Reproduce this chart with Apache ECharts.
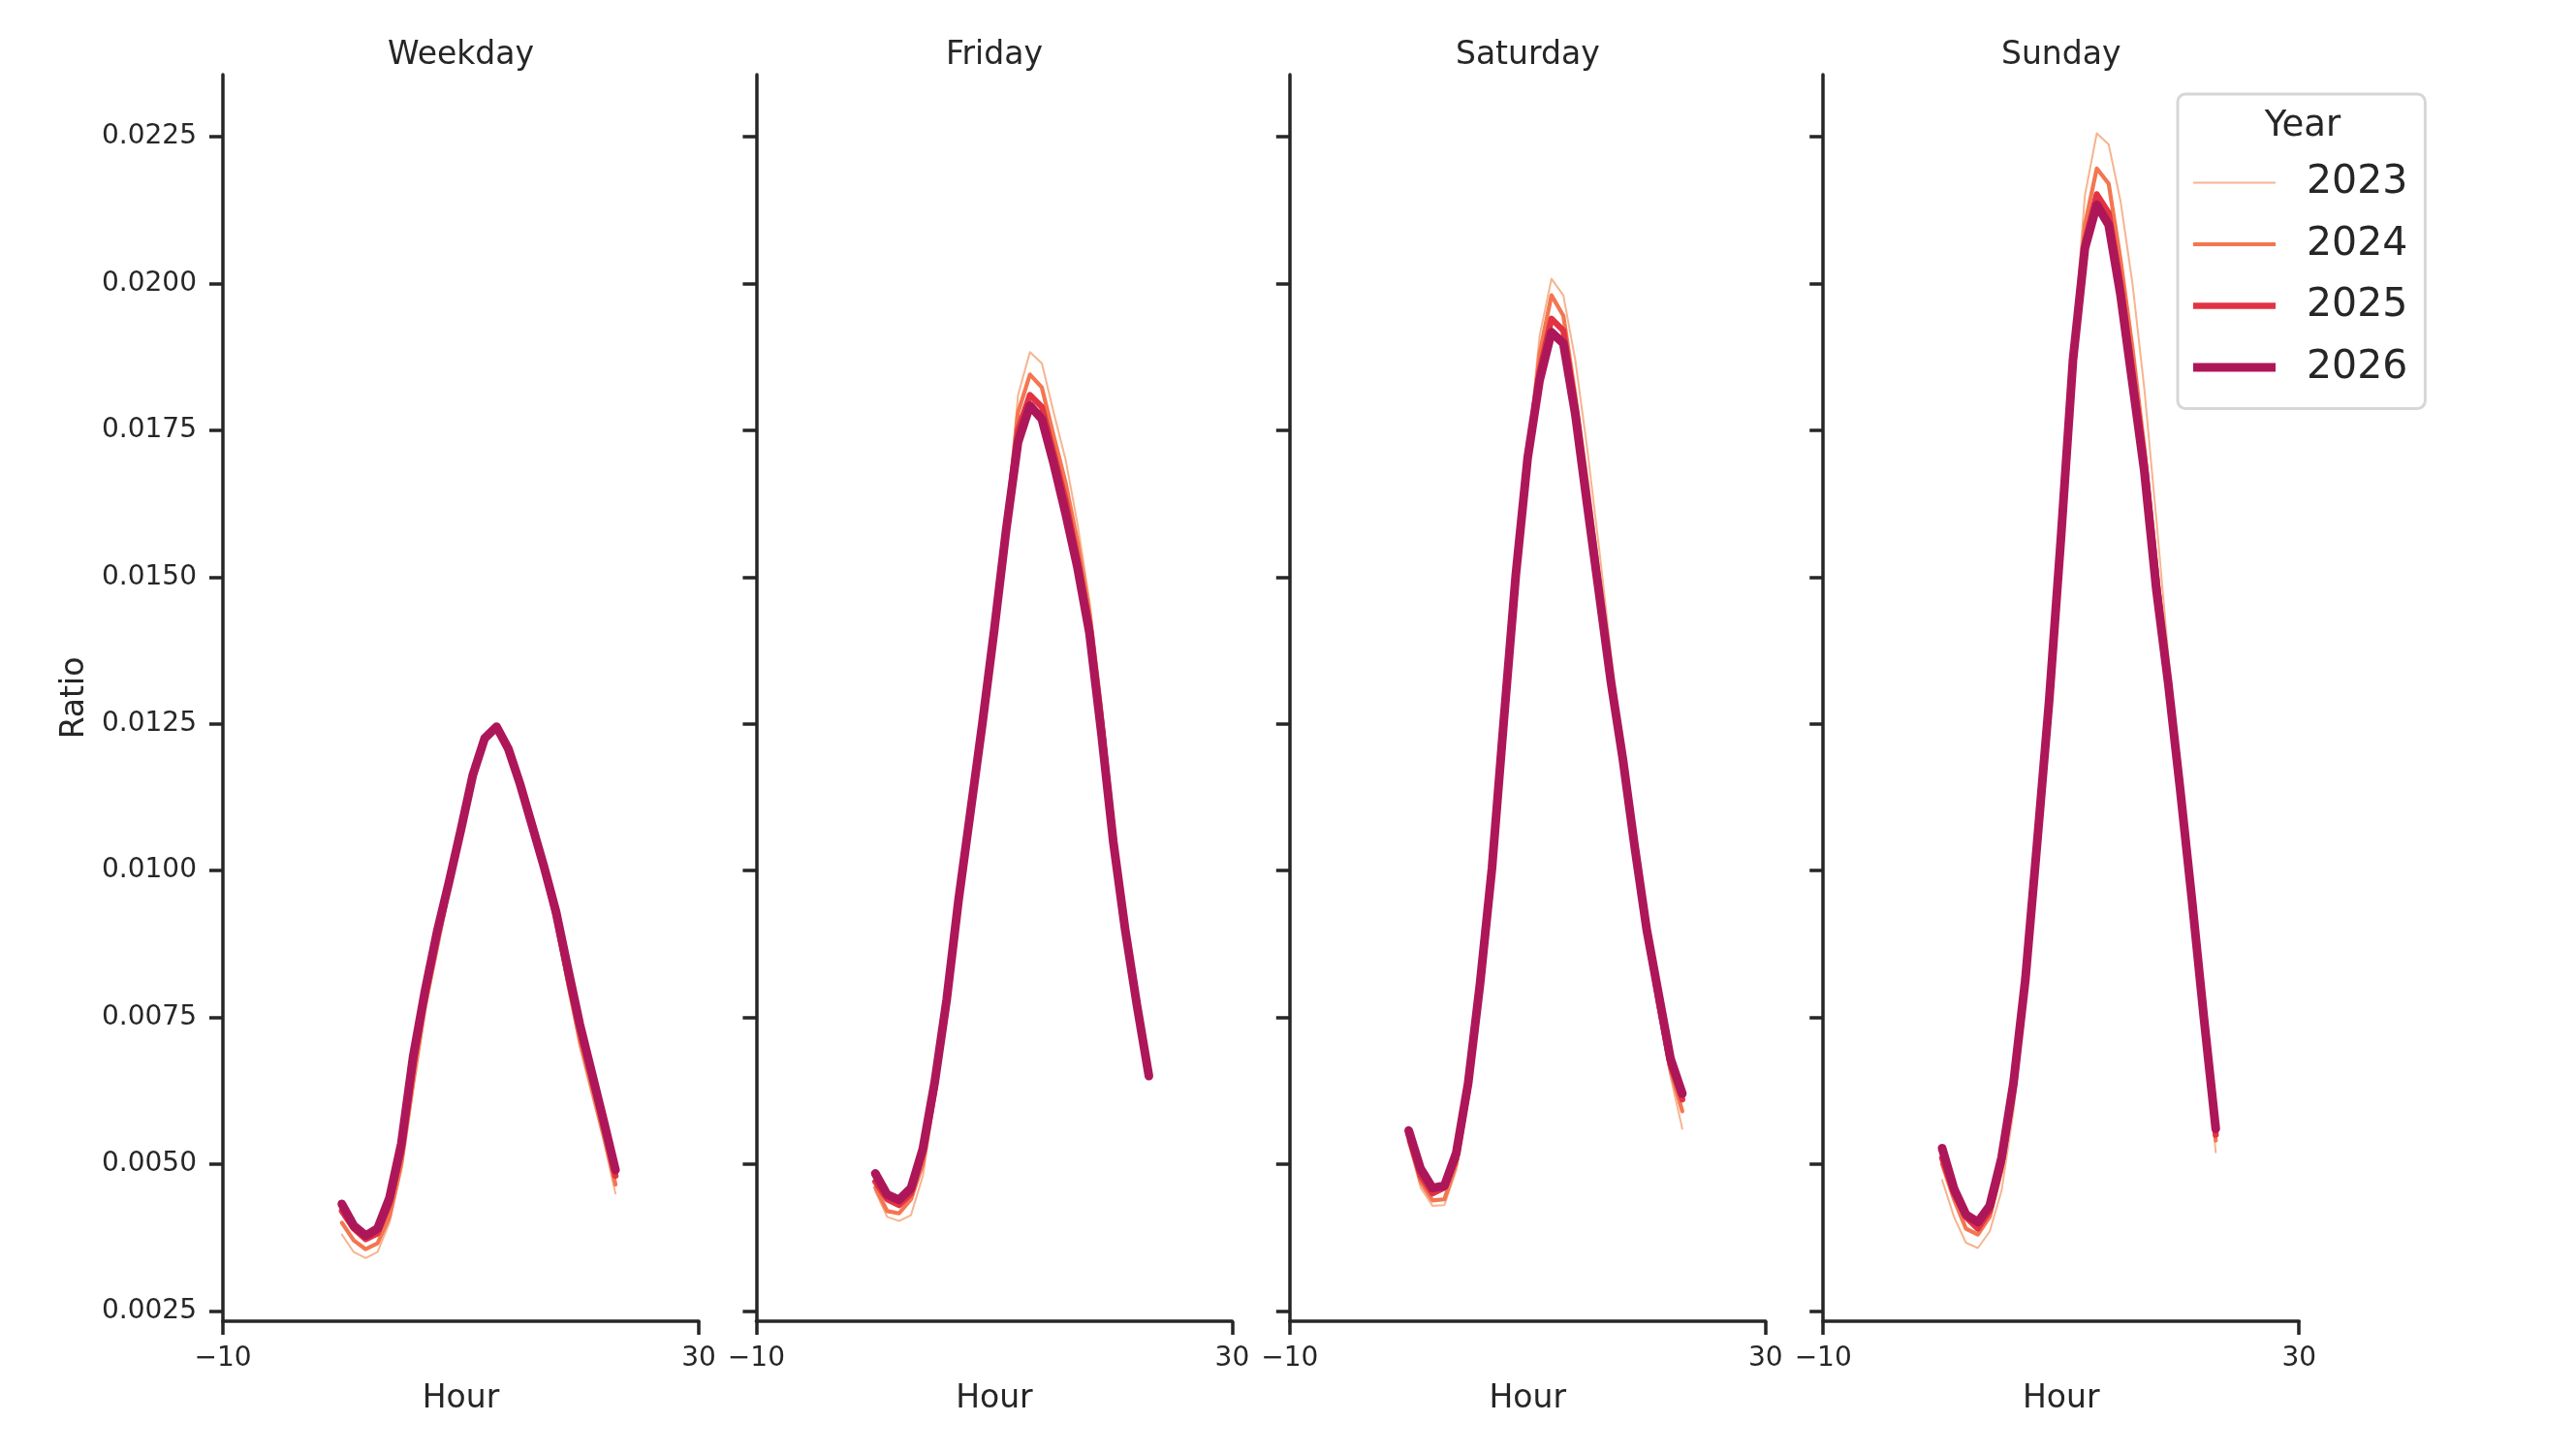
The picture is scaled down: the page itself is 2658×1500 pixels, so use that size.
<!DOCTYPE html>
<html>
<head>
  <meta charset="UTF-8">
  <title>Ratio by hour</title>
  <style>
    html, body {
      margin: 0;
      padding: 0;
      background: #fff;
    }

    #main {
      width: 2658px;
      height: 1500px;
    }
  </style>
  <script src="https://cdn.jsdelivr.net/npm/echarts@6/dist/echarts.min.js"></script>
</head>

<body>
<div id="main"></div>

<script type="text/javascript">
  // data
  const hours = [0, 1, 2, 3, 4, 5, 6, 7, 8, 9, 10, 11, 12, 13, 14, 15, 16, 17, 18, 19, 20, 21, 22, 23];
  const panels = ['Weekday', 'Friday', 'Saturday', 'Sunday'];
  const years = ['2023', '2024', '2025', '2026'];
  const yTicks = [0.0025, 0.005, 0.0075, 0.01, 0.0125, 0.015, 0.0175, 0.02, 0.0225];
  const xTicks = [-10, 30];

  const weekday2023 = [0.0038, 0.0035, 0.0034, 0.0035, 0.0040, 0.0049, 0.0063, 0.0076, 0.0086, 0.0096, 0.0105, 0.0114,
    0.0122, 0.01242, 0.0120, 0.0114, 0.0107, 0.0099, 0.0091, 0.0080, 0.0070, 0.0062, 0.0054, 0.0045];
  const weekday2024 = [0.0040, 0.0037, 0.00355, 0.00365, 0.0041, 0.0050, 0.0064, 0.0077, 0.0087, 0.0097, 0.0106, 0.0115,
    0.01222, 0.01243, 0.01205, 0.01143, 0.0107, 0.0100, 0.0092, 0.0081, 0.0071, 0.0063, 0.0055, 0.00465];
  const weekday2025 = [0.0042, 0.0039, 0.00372, 0.00382, 0.00432, 0.0052, 0.0067, 0.0079, 0.0089, 0.0098, 0.01068, 0.0116,
    0.01224, 0.01245, 0.01207, 0.01145, 0.01075, 0.01004, 0.0092, 0.0082, 0.0073, 0.0065, 0.0057, 0.0048];
  const weekday2026 = [0.00432, 0.00395, 0.00378, 0.0039, 0.00442, 0.00535, 0.00684, 0.00796, 0.00895, 0.0098, 0.01069, 0.01162,
    0.01225, 0.01245, 0.01207, 0.01146, 0.01076, 0.01006, 0.0093, 0.00833, 0.00738, 0.00656, 0.00574, 0.0049];

  const friday2023 = [0.00454, 0.0041, 0.00403, 0.00413, 0.0048, 0.0061, 0.0076, 0.0094, 0.0110, 0.0125, 0.0141, 0.0159,
    0.0181, 0.01883, 0.01864, 0.0178, 0.0170, 0.0159, 0.0146, 0.0129, 0.0108, 0.0091, 0.0077, 0.0065];
  const friday2024 = [0.0046, 0.0042, 0.00416, 0.0044, 0.0050, 0.0062, 0.0077, 0.0095, 0.0110, 0.0125, 0.0141, 0.0159,
    0.0178, 0.01845, 0.01823, 0.0174, 0.0166, 0.0156, 0.0144, 0.0127, 0.0107, 0.0091, 0.0077, 0.0065];
  const friday2025 = [0.0047, 0.0044, 0.0043, 0.0045, 0.0052, 0.0063, 0.0078, 0.0095, 0.0110, 0.0125, 0.0141, 0.0158,
    0.0175, 0.0181, 0.0179, 0.0171, 0.0163, 0.0153, 0.0142, 0.0125, 0.0106, 0.0090, 0.0077, 0.0065];
  const friday2026 = [0.00484, 0.00448, 0.00439, 0.00459, 0.00526, 0.0064, 0.0078, 0.0095, 0.0110, 0.0125, 0.0141, 0.0158,
    0.0173, 0.01792, 0.01769, 0.01693, 0.01608, 0.01516, 0.01405, 0.01235, 0.0105, 0.0090, 0.0077, 0.0065];

  const saturday2023 = [0.0054, 0.0046, 0.00429, 0.0043, 0.0049, 0.0061, 0.0079, 0.0099, 0.0124, 0.0150, 0.0171, 0.0191,
    0.02008, 0.0198, 0.0187, 0.0172, 0.0155, 0.0137, 0.0120, 0.0104, 0.0088, 0.0076, 0.0065, 0.0056];
  const saturday2024 = [0.0054, 0.0047, 0.00438, 0.0044, 0.0050, 0.0062, 0.0080, 0.0100, 0.0125, 0.0150, 0.0170, 0.0188,
    0.0198, 0.01945, 0.0181, 0.0166, 0.0150, 0.0134, 0.0119, 0.0104, 0.0089, 0.0077, 0.0066, 0.0059];
  const saturday2025 = [0.0055, 0.0048, 0.0045, 0.0046, 0.0051, 0.0063, 0.0080, 0.0100, 0.0125, 0.0150, 0.0170, 0.0185,
    0.0194, 0.0192, 0.0179, 0.0163, 0.0148, 0.0132, 0.0119, 0.0104, 0.0090, 0.0078, 0.0067, 0.0061];
  const saturday2026 = [0.00557, 0.00492, 0.00459, 0.00463, 0.00519, 0.00638, 0.00808, 0.01004, 0.01257, 0.01503, 0.01703, 0.01835,
    0.01917, 0.01898, 0.01778, 0.01624, 0.01473, 0.01321, 0.0119, 0.0104, 0.0090, 0.0079, 0.0068, 0.0062];

  const sunday2023 = [0.00473, 0.0041, 0.00366, 0.00357, 0.00385, 0.00455, 0.0059, 0.0078, 0.0102, 0.0128, 0.0157, 0.0189,
    0.0215, 0.02256, 0.02237, 0.0214, 0.0200, 0.0182, 0.0160, 0.0137, 0.0116, 0.0095, 0.0074, 0.0052];
  const sunday2024 = [0.0050, 0.0044, 0.0039, 0.0038, 0.0041, 0.0049, 0.0062, 0.0080, 0.0104, 0.0129, 0.0157, 0.0188,
    0.0210, 0.02196, 0.0217, 0.0204, 0.0189, 0.0172, 0.0152, 0.0133, 0.0114, 0.0094, 0.0074, 0.0054];
  const sunday2025 = [0.0051, 0.0045, 0.0041, 0.0039, 0.0042, 0.0050, 0.0063, 0.0081, 0.0105, 0.0129, 0.0157, 0.0187,
    0.0207, 0.02152, 0.0212, 0.0200, 0.0185, 0.0170, 0.0150, 0.0132, 0.0114, 0.0095, 0.0075, 0.0055];
  const sunday2026 = [0.00527, 0.00458, 0.00414, 0.00401, 0.00429, 0.00511, 0.00638, 0.00815, 0.0105, 0.0129, 0.0157, 0.0187,
    0.0206, 0.02134, 0.0210, 0.0198, 0.0183, 0.0168, 0.0148, 0.0132, 0.0114, 0.0095, 0.0075, 0.0056];

  const panelData = [
    [weekday2023, weekday2024, weekday2025, weekday2026],
    [friday2023, friday2024, friday2025, friday2026],
    [saturday2023, saturday2024, saturday2025, saturday2026],
    [sunday2023, sunday2024, sunday2025, sunday2026]
  ];

  const yearColors = ['#f6b48f', '#f37651', '#e13342', '#ad1759'];
  const yearWidths = [2, 4.2, 6.3, 9];
  const ink = '#262626';
  const font = 'DejaVu Sans';

  const myChart = echarts.init(document.getElementById('main'), null, {renderer: 'canvas'});

  // panel layout, in px
  const gridLeft0 = 230;
  const gridStep = 550.4;
  const gridWidth = 491;
  const gridTop = 77;
  const gridHeight = 1286;

  let grids = [], xAxes = [], yAxes = [], titles = [], series = [];

  panels.forEach(function (name, i) {
    const left = gridLeft0 + gridStep * i;
    grids.push({left: left, top: gridTop, width: gridWidth, height: gridHeight});
    titles.push({
      text: name,
      left: left + gridWidth / 2,
      top: 41,
      padding: 0,
      textAlign: 'center',
      textStyle: {fontFamily: font, fontSize: 33, fontWeight: 'normal', color: ink}
    });
    xAxes.push({
      gridIndex: i,
      type: 'value',
      min: -10,
      max: 30,
      name: 'Hour',
      nameLocation: 'middle',
      nameGap: 64,
      nameTextStyle: {fontFamily: font, fontSize: 33, color: ink},
      splitLine: {show: false},
      axisLine: {onZero: false, lineStyle: {color: ink, width: 3.5}},
      axisTick: {show: true, length: 14, inside: false, customValues: xTicks, lineStyle: {color: ink, width: 3.5}},
      axisLabel: {
        customValues: xTicks, margin: 25, fontFamily: font, fontSize: 28, color: ink,
        formatter: function (v) { return v < 0 ? '\u2212' + Math.abs(v) : String(v); }
      }
    });
    yAxes.push({
      gridIndex: i,
      type: 'value',
      min: 0.002323,
      max: 0.023558,
      name: i === 0 ? 'Ratio' : '',
      nameLocation: 'middle',
      nameRotate: 90,
      nameGap: 136,
      nameTextStyle: {fontFamily: font, fontSize: 33, color: ink},
      splitLine: {show: false},
      axisLine: {show: true, onZero: false, lineStyle: {color: ink, width: 3.5}},
      axisTick: {show: true, length: 14, inside: false, customValues: yTicks, lineStyle: {color: ink, width: 3.5}},
      axisLabel: {
        show: i === 0, customValues: yTicks, margin: 27, fontFamily: font, fontSize: 28, color: ink,
        formatter: function (v) { return v.toFixed(4); }
      }
    });
    years.forEach(function (yr, k) {
      series.push({
        name: yr,
        type: 'line',
        xAxisIndex: i,
        yAxisIndex: i,
        data: hours.map(function (h, j) { return [h, panelData[i][k][j]]; }),
        showSymbol: false,
        symbol: 'none',
        animation: false,
        color: yearColors[k],
        lineStyle: {color: yearColors[k], width: yearWidths[k], cap: 'round', join: 'round'},
        z: 2 + k
      });
    });
  });

  // legend swatches: flat bars as thick as each year's line
  const legendItems = years.map(function (yr, k) {
    const t = (yearWidths[k] / 0.85).toFixed(2);
    return {name: yr, icon: 'path://M0,0 L100,0 L100,' + t + ' L0,' + t + ' Z'};
  });

  const option = {
    backgroundColor: '#ffffff',
    animation: false,
    title: titles,
    grid: grids,
    xAxis: xAxes,
    yAxis: yAxes,
    legend: {
      data: legendItems,
      orient: 'vertical',
      left: 2247,
      top: 97,
      padding: [71, 18, 22, 16],
      itemGap: 22.5,
      itemWidth: 85,
      itemHeight: 14,
      backgroundColor: '#ffffff',
      borderColor: '#d6d6d6',
      borderWidth: 3,
      borderRadius: 8,
      selectedMode: false,
      textStyle: {fontFamily: font, fontSize: 41, color: ink, padding: [0, 0, 0, 27]}
    },
    graphic: [{
      type: 'text',
      x: 2376,
      y: 130,
      z: 100,
      style: {text: 'Year', fontFamily: font, fontSize: 37, fill: ink, textAlign: 'center', textVerticalAlign: 'middle'}
    }],
    series: series
  };

  myChart.setOption(option);
</script>
</body>
</html>
